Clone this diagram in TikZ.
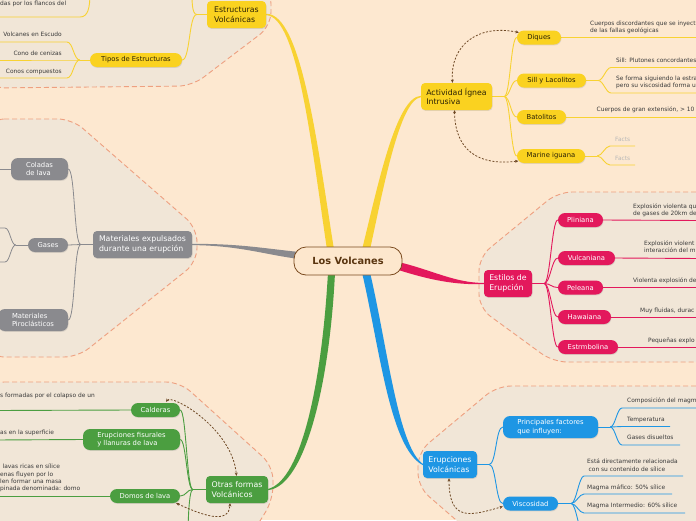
\documentclass[tikz,border=0pt]{standalone}
\usepackage{fontspec}
\setmainfont{DejaVu Sans}
\usetikzlibrary{arrows.meta,shadows}
\definecolor{bgc}{HTML}{FDE8D0}
\definecolor{regfill}{HTML}{F1E6D7}
\definecolor{regline}{HTML}{EEA080}
\definecolor{ycol}{HTML}{FAD220}
\definecolor{yline}{HTML}{F8D232}
\definecolor{ytext}{HTML}{2B2205}
\definecolor{pcol}{HTML}{E3185C}
\definecolor{bcol}{HTML}{1E96E4}
\definecolor{gcol}{HTML}{8A8A8E}
\definecolor{grcol}{HTML}{4B9E40}
\definecolor{arrc}{HTML}{6E4824}
\definecolor{leafc}{HTML}{3A3A3A}
\definecolor{factc}{HTML}{B8B8B8}
\definecolor{cfill}{HTML}{FDE7CD}
\definecolor{cline}{HTML}{7A4A1E}
\definecolor{ctext}{HTML}{5A3510}
\pgfdeclarelayer{back}
\pgfdeclarelayer{mid}
\pgfsetlayers{back,mid,main}
\tikzset{
  region/.style={fill=regfill, draw=regline, line width=0.9pt, dash pattern=on 5pt off 3pt, rounded corners=14pt},
  boxshadow/.style={drop shadow={shadow xshift=0.5pt, shadow yshift=-0.9pt, opacity=0.22}},
  mainbox/.style={rounded corners=4pt, inner sep=0pt, align=left, font=\fontsize{7.8}{9.8}\selectfont, boxshadow},
  subbox/.style={rounded corners=7pt, inner sep=0pt, align=left, font=\fontsize{6.8}{8.4}\selectfont, boxshadow},
  leaf/.style={inner sep=0pt, align=left, font=\fontsize{5.9}{7.3}\selectfont, text=leafc},
  ybox/.style={fill=ycol, text=ytext},
  pbox/.style={fill=pcol, text=white},
  bbox/.style={fill=bcol, text=white},
  gbox/.style={fill=gcol, text=white},
  grbox/.style={fill=grcol, text=white},
  yl/.style={draw=yline, line width=0.9pt},
  pl/.style={draw=pcol, line width=0.9pt},
  bl/.style={draw=bcol, line width=0.9pt},
  gl/.style={draw=gcol, line width=0.8pt},
  grl/.style={draw=grcol, line width=0.9pt},
  dasharrow/.style={draw=arrc, line width=0.8pt, dash pattern=on 2pt off 1.6pt, arrows={Stealth[length=3.2pt,width=3pt]-Stealth[length=3.2pt,width=3pt]}},
}
\begin{document}
\begin{tikzpicture}[x=1pt,y=-1pt]
\useasboundingbox (0,0) rectangle (696,520);
\begin{pgfonlayer}{back}
\fill[bgc] (0,0) rectangle (696,520);
\path[region] (-10,-10) -- (271,-10) -- (271,26) -- (192,86) -- (-10,88) -- cycle;
\path[region] (-10,119) -- (72,119) -- (197,228) -- (197,262) -- (78,357) -- (-10,357) -- cycle;
\path[region] (710,192) -- (558,192) -- (479,257) -- (479,308) -- (553,362) -- (710,362) -- cycle;
\path[region] (710,386) -- (497,386) -- (418,452) -- (418,487) -- (485,545) -- (710,545) -- cycle;
\path[region] (-10,382) -- (180,382) -- (273,466) -- (273,500) -- (245,545) -- (-10,545) -- cycle;
\end{pgfonlayer}

% central node
\node[draw=cline, fill=cfill, line width=0.8pt, rounded corners=12pt, minimum width=108pt, minimum height=28pt, inner sep=0pt, font=\fontsize{9.8}{11}\selectfont\bfseries, text=ctext] (c) at (348,261) {Los Volcanes};

% main and sub nodes
\node[mainbox, ybox, minimum width=59pt, minimum height=27pt] (est) at (236.5,14.5) {Estructuras\\Volcánicas};
\node[subbox, ybox, minimum width=92pt, minimum height=14pt] (tip) at (136,60) {Tipos de Estructuras};
\node[mainbox, gbox, minimum width=99pt, minimum height=27pt] (mat) at (142.5,244.5) {Materiales expulsados\\durante una erupción};
\node[subbox, gbox, minimum width=57pt, minimum height=22pt] (col) at (39.5,169) {Coladas\\de lava};
\node[subbox, gbox, minimum width=40pt, minimum height=14pt] (gas) at (48,245) {Gases};
\node[subbox, gbox, minimum width=70pt, minimum height=22pt] (pir) at (33,320) {Materiales\\Piroclásticos};
\node[mainbox, ybox, minimum width=71pt, minimum height=27pt] (act) at (456.5,96.5) {Actividad Ígnea\\Intrusiva};
\node[subbox, ybox, minimum width=44pt, minimum height=14pt] (diq) at (539,37.5) {Diques};
\node[subbox, ybox, minimum width=69pt, minimum height=14pt] (sill) at (551.5,80.5) {Sill y Lacolitos};
\node[subbox, ybox, minimum width=49pt, minimum height=14pt] (bat) at (541.5,117) {Batolitos};
\node[subbox, ybox, minimum width=68pt, minimum height=14pt] (mar) at (551,156) {Marine iguana};
\node[mainbox, pbox, minimum width=48pt, minimum height=27pt] (sty) at (508,283.5) {Estilos de\\Erupción};
\node[subbox, pbox, minimum width=45pt, minimum height=14pt] (pli) at (580.5,220) {Pliniana};
\node[subbox, pbox, minimum width=57pt, minimum height=14pt] (vul) at (586.5,258) {Vulcaniana};
\node[subbox, pbox, minimum width=45pt, minimum height=14pt] (pel) at (580.5,287.5) {Peleana};
\node[subbox, pbox, minimum width=53pt, minimum height=14pt] (haw) at (584.5,317) {Hawaiana};
\node[subbox, pbox, minimum width=60pt, minimum height=14pt] (stb) at (588,347) {Estrmbolina};
\node[mainbox, bbox, minimum width=54pt, minimum height=27pt] (eru) at (450,464.5) {Erupciones\\Volcánicas};
\node[subbox, bbox, minimum width=95pt, minimum height=22pt] (pri) at (550.5,427) {Principales factores\\que influyen:};
\node[subbox, bbox, minimum width=55pt, minimum height=14pt] (vis) at (530.5,503.5) {Viscosidad};
\node[mainbox, grbox, minimum width=62pt, minimum height=27pt] (otr) at (237,489.5) {Otras formas\\Volcánicos};
\node[subbox, grbox, minimum width=49pt, minimum height=14pt] (cal) at (155.5,410) {Calderas};
\node[subbox, grbox, minimum width=97pt, minimum height=21pt] (fis) at (131.5,439.5) {Erupciones fisurales\\y llanuras de lava};
\node[subbox, grbox, minimum width=70pt, minimum height=14pt] (dom) at (145,496) {Domos de lava};

% leaf texts
\node[leaf, anchor=base west] (t0) at (0,5.5) {das por los flancos del};
\node[leaf, anchor=base east] (t1) at (62,36.5) {Volcanes en Escudo};
\node[leaf, anchor=base east] (t2) at (62,55.2) {Cono de cenizas};
\node[leaf, anchor=base east] (t3) at (62,73.5) {Conos compuestos};
\node[leaf, anchor=north west] (d1) at (590,20.8) {Cuerpos discordantes que se inyect\\de las fallas geológicas};
\node[leaf, anchor=base west] (s1) at (616,62.5) {Sill: Plutones concordantes};
\node[leaf, anchor=north west] (s2) at (616,75.8) {Se forma siguiendo la estra\\pero su viscosidad forma u};
\node[leaf, anchor=base west] (b1) at (596.5,111.5) {Cuerpos de gran extensión, > 10};
\node[leaf, anchor=base west, text=factc] (f1) at (615,141.5) {Facts};
\node[leaf, anchor=base west, text=factc] (f2) at (615,160.5) {Facts};
\node[leaf, anchor=north west] (e1) at (633,203.5) {Explosión violenta qu\\de gases de 20km de};
\node[leaf, anchor=north west] (e2) at (644,240.1) {Explosión violent\\interacción del m};
\node[leaf, anchor=base west] (e3) at (633,282.2) {Violenta explosión de};
\node[leaf, anchor=base west] (e4) at (640,312.5) {Muy fluidas, durac};
\node[leaf, anchor=base west] (e5) at (648,342.2) {Pequeñas explo};
\node[leaf, anchor=base west] (p1) at (627,402.5) {Composición del magm};
\node[leaf, anchor=base west] (p2) at (627,421.5) {Temperatura};
\node[leaf, anchor=base west] (p3) at (627,439.2) {Gases disueltos};
\node[leaf, anchor=north west] (v1) at (587,458.8) {Está directamente relacionada\\\hspace*{1.5pt}con su contenido de sílice};
\node[leaf, anchor=base west] (v2) at (587,489.2) {Magma máfico: 50\% sílice};
\node[leaf, anchor=base west] (v3) at (587,507.2) {Magma Intermedio: 60\% sílice};
\node[leaf, anchor=base west] (o1) at (0,397.5) {s formadas por el colapso de un};
\node[leaf, anchor=base west] (o2) at (0,434.2) {as en la superficie};
\node[leaf, anchor=north west] (o3) at (0,464) {\hspace*{2.5pt}lavas ricas en sílice\\enas fluyen por lo\\len formar una masa\\pinada denominada: domo};

% free-end coordinates
\coordinate (estup) at (192,-8);
\coordinate (ffa) at (90,-8); \coordinate (ffb) at (80,17); \coordinate (ffc) at (-5,17);
\coordinate (ta1) at (67,42); \coordinate (tb1) at (-5,42);
\coordinate (ta2) at (67,60); \coordinate (tb2) at (-5,60);
\coordinate (ta3) at (67,78); \coordinate (tb3) at (-5,78);
\coordinate (ga1) at (5,228); \coordinate (gb1) at (-5,228);
\coordinate (ga2) at (5,262); \coordinate (gb2) at (-5,262);
\coordinate (cl1) at (-5,169);
\coordinate (de) at (700,37.5);
\coordinate (sa1) at (611,67.5); \coordinate (sb1) at (700,67.5);
\coordinate (sa2) at (611,93); \coordinate (sb2) at (700,93);
\coordinate (be) at (700,117);
\coordinate (ma1) at (610,146); \coordinate (mb1) at (635,146);
\coordinate (ma2) at (610,165); \coordinate (mb2) at (635,165);
\coordinate (pe1) at (700,220.5); \coordinate (pe2) at (700,258.5); \coordinate (pe3) at (700,287.5);
\coordinate (pe4) at (700,317); \coordinate (pe5) at (700,347);
\coordinate (pa1) at (622,408); \coordinate (pb1) at (700,408);
\coordinate (pa2) at (622,426.5); \coordinate (pb2) at (670,426.5);
\coordinate (pa3) at (622,445); \coordinate (pb3) at (680,445);
\coordinate (va1) at (584,476); \coordinate (vb1) at (683,476);
\coordinate (va2) at (584,494); \coordinate (vb2) at (672,494);
\coordinate (va3) at (584,513); \coordinate (vb3) at (685,513);
\coordinate (va4) at (584,535);
\coordinate (cle) at (-5,410.5); \coordinate (fle) at (-5,440); \coordinate (dle) at (-5,496);
\coordinate (od) at (188,535);

\begin{pgfonlayer}{mid}
% main tapered branches
\fill[gcol] ([yshift=0.6pt]mat.east) .. controls (240,243.5) and (268,249) .. ([xshift=6pt,yshift=9pt]c.west) -- ([xshift=6pt,yshift=2pt]c.west) .. controls (266,255) and (240,245.5) .. ([yshift=-0.6pt]mat.east) -- cycle;
\fill[yline] ([yshift=0.7pt]est.east) .. controls (302,13) and (318,150) .. ([xshift=-14pt,yshift=-3pt]c.north) -- ([xshift=-21pt,yshift=-3pt]c.north) .. controls (312,150) and (298,16) .. ([yshift=-0.7pt]est.east) -- cycle;
\fill[yline] ([yshift=0.7pt]act.west) .. controls (396,97) and (378,185) .. ([xshift=14pt,yshift=-3pt]c.north) -- ([xshift=22pt,yshift=-3pt]c.north) .. controls (384,185) and (400,100) .. ([yshift=-0.7pt]act.west) -- cycle;
\fill[pcol] ([xshift=-4pt,yshift=-1pt]c.east) .. controls (432,270) and (455,283) .. ([yshift=0.6pt]sty.west) -- ([yshift=-0.6pt]sty.west) .. controls (455,285) and (430,280) .. ([xshift=-4pt,yshift=-9pt]c.east) -- cycle;
\fill[bcol] ([xshift=14pt,yshift=3pt]c.south) .. controls (380,350) and (390,448) .. ([yshift=-0.6pt]eru.west) -- ([yshift=0.6pt]eru.west) .. controls (398,446) and (388,350) .. ([xshift=22pt,yshift=3pt]c.south) -- cycle;
\fill[grcol] ([xshift=-20pt,yshift=3pt]c.south) .. controls (322,380) and (302,480) .. ([yshift=0.6pt]otr.east) -- ([yshift=-0.6pt]otr.east) .. controls (306,486) and (330,380) .. ([xshift=-13pt,yshift=3pt]c.south) -- cycle;

% Estructuras
\draw[yl] (est.west) -- ++(-10,0) coordinate (estf);
\draw[yl] (estf) .. controls +(-5,0) and +(0,8) .. (estup);
\draw[yl] (estf) .. controls +(-8,0) and +(8,0) .. (tip.east);
\draw[yl] (ffa) .. controls (90,8) and (88,17) .. (ffb) -- (ffc);
\draw[yl] (tip.west) -- ++(-10,0) coordinate (tipf);
\draw[yl] (tipf) .. controls +(-6,0) and +(6,0) .. (ta1) -- (tb1);
\draw[yl] (tipf) .. controls +(-6,0) and +(6,0) .. (ta2) -- (tb2);
\draw[yl] (tipf) .. controls +(-6,0) and +(6,0) .. (ta3) -- (tb3);

% Materiales
\draw[gl] (mat.west) -- ++(-12,0) coordinate (matf);
\draw[gl] (matf) .. controls +(-7,0) and +(7,0) .. (col.east);
\draw[gl] (matf) -- (gas.east);
\draw[gl] (matf) .. controls +(-7,0) and +(7,0) .. (pir.east);
\draw[gl] (col.west) -- (cl1);
\draw[gl] (gas.west) -- ++(-12,0) coordinate (gasf);
\draw[gl] (gasf) .. controls +(-5,0) and +(5,0) .. (ga1) -- (gb1);
\draw[gl] (gasf) .. controls +(-5,0) and +(5,0) .. (ga2) -- (gb2);

% Actividad
\draw[yl] (act.east) -- ++(12,0) coordinate (actf);
\foreach \n in {diq,sill,bat,mar}{\draw[yl] (actf) .. controls +(6,0) and +(-6,0) .. (\n.west);}
\draw[yl] (diq.east) -- (de);
\draw[yl] (sill.east) -- ++(12,0) coordinate (sillf);
\draw[yl] (sillf) .. controls +(5,0) and +(-5,0) .. (sa1) -- (sb1);
\draw[yl] (sillf) .. controls +(5,0) and +(-5,0) .. (sa2) -- (sb2);
\draw[yl] (bat.east) -- (be);
\draw[yl] (mar.east) -- ++(12,0) coordinate (marf);
\draw[yl] (marf) .. controls +(5,0) and +(-5,0) .. (ma1) -- (mb1);
\draw[yl] (marf) .. controls +(5,0) and +(-5,0) .. (ma2) -- (mb2);
\draw[dasharrow] ([xshift=-4pt]act.north) .. controls (450,45) and (478,24) .. ([xshift=2pt,yshift=5pt]diq.west);
\draw[dasharrow] ([xshift=-2pt]act.south) .. controls (455,150) and (478,166) .. ([xshift=1.5pt,yshift=-5pt]mar.west);

% Estilos
\draw[pl] (sty.east) -- ++(12,0) coordinate (styf);
\foreach \n in {pli,vul,pel,haw,stb}{\draw[pl] (styf) .. controls +(6,0) and +(-6,0) .. (\n.west);}
\draw[pl] (pli.east) -- (pe1);
\draw[pl] (vul.east) -- (pe2);
\draw[pl] (pel.east) -- (pe3);
\draw[pl] (haw.east) -- (pe4);
\draw[pl] (stb.east) -- (pe5);

% Erupciones
\draw[bl] (eru.east) -- ++(12,0) coordinate (eruf);
\draw[bl] (eruf) .. controls +(7,0) and +(-7,0) .. (pri.west);
\draw[bl] (eruf) .. controls +(7,0) and +(-7,0) .. (vis.west);
\draw[bl] (pri.east) -- ++(12,0) coordinate (prif);
\draw[bl] (prif) .. controls +(5,0) and +(-5,0) .. (pa1) -- (pb1);
\draw[bl] (prif) .. controls +(5,0) and +(-5,0) .. (pa2) -- (pb2);
\draw[bl] (prif) .. controls +(5,0) and +(-5,0) .. (pa3) -- (pb3);
\draw[bl] (vis.east) -- ++(13,0) coordinate (visf);
\draw[bl] (visf) .. controls +(5,0) and +(-5,0) .. (va1) -- (vb1);
\draw[bl] (visf) .. controls +(5,0) and +(-5,0) .. (va2) -- (vb2);
\draw[bl] (visf) .. controls +(5,0) and +(-5,0) .. (va3) -- (vb3);
\draw[bl] (visf) .. controls +(5,0) and +(-5,0) .. (va4);
\draw[dasharrow] ([xshift=-1pt]eru.south) .. controls (449,522) and (470,516) .. ([yshift=-3pt]vis.west);

% Otras formas
\draw[grl] (otr.west) -- ++(-13,0) coordinate (otrf);
\foreach \n in {cal,fis,dom}{\draw[grl] (otrf) .. controls +(-6,0) and +(6,0) .. (\n.east);}
\draw[grl] (otrf) .. controls +(-4,0) and +(0,-10) .. (od);
\draw[grl] (cal.west) -- (cle);
\draw[grl] (fis.west) -- (fle);
\draw[grl] (dom.west) -- (dle);
\draw[dasharrow] ([xshift=10.5pt,yshift=1pt]cal.north) .. controls (172,394) and (232,428) .. ([xshift=-0.5pt]otr.north);
\draw[dasharrow] ([xshift=-4pt]dom.south east) .. controls (200,514) and (229,526) .. ([xshift=-7pt]otr.south);
\end{pgfonlayer}
\end{tikzpicture}
\end{document}
